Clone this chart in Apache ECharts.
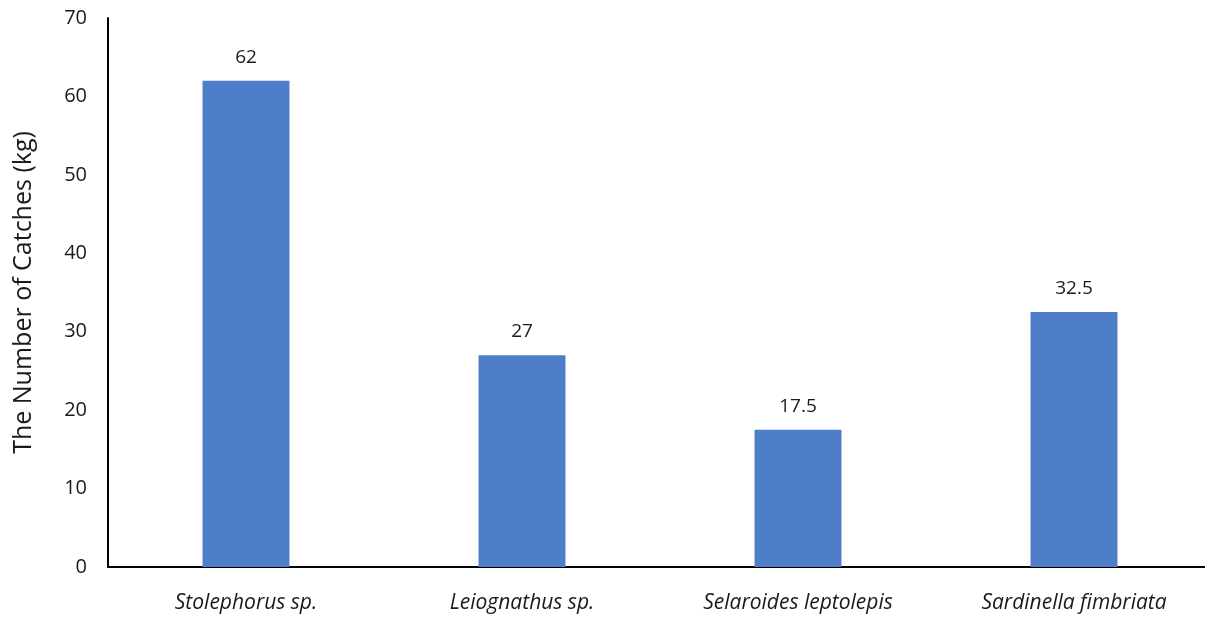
<!DOCTYPE html>
<html><head><meta charset="utf-8">
<script src="https://cdn.jsdelivr.net/npm/echarts@6/dist/echarts.min.js"></script>
<style>html,body{margin:0;padding:0;background:#fff}#c{width:1205px;height:619px}</style>
</head><body><div id="c"></div>
<script>
var categories = ['Stolephorus sp.', 'Leiognathus sp.', 'Selaroides leptolepis', 'Sardinella fimbriata'];
var catches = [62, 27, 17.5, 32.5];
var yTicks = {min: 0, max: 70, interval: 10};
var chart = echarts.init(document.getElementById('c'));
chart.setOption({
  animation: false,
  grid: {left: 108, right: -7, top: 18, bottom: 52, containLabel: false, outerBoundsMode: 'none'},
  xAxis: {
    type: 'category', data: categories,
    axisLine: {lineStyle: {color: '#000', width: 2}},
    axisTick: {show: false},
    axisLabel: {color: '#1a1a1a', fontSize: 21, fontStyle: 'italic', fontFamily: 'Open Sans', margin: 26}
  },
  yAxis: {
    type: 'value', min: yTicks.min, max: yTicks.max, interval: yTicks.interval,
    name: 'The Number of Catches (kg)', nameLocation: 'middle', nameGap: 72,
    nameTextStyle: {color: '#1a1a1a', fontSize: 25, fontFamily: 'Open Sans'},
    axisLine: {show: true, lineStyle: {color: '#000', width: 2}},
    axisTick: {show: false},
    splitLine: {show: false},
    axisLabel: {color: '#1a1a1a', fontSize: 20, fontFamily: 'Open Sans', margin: 21}
  },
  series: [{
    type: 'bar', data: catches, barWidth: '31.5%',
    itemStyle: {color: '#4e7dc9'},
    label: {show: true, position: 'top', distance: 14, color: '#1a1a1a', fontSize: 19, fontFamily: 'Open Sans'}
  }]
});
</script></body></html>
